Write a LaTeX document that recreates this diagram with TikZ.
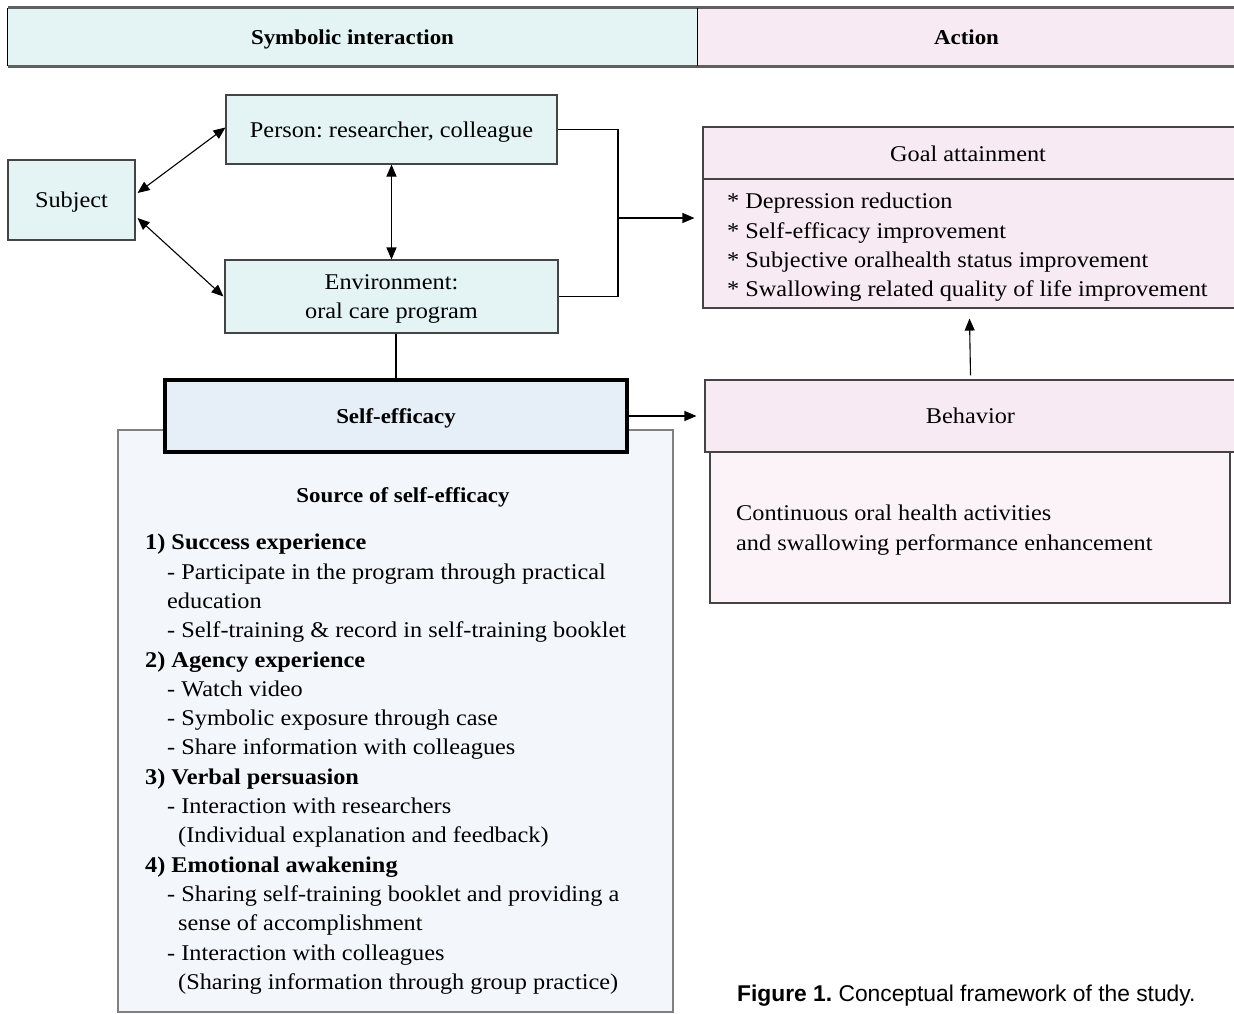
\documentclass[tikz,border=0pt]{standalone}
\usepackage{fontspec}
\setmainfont{Liberation Serif}[FakeStretch=1.08]
\newfontfamily\capfont{Liberation Sans}
\usetikzlibrary{arrows.meta,calc}
\definecolor{cyanbg}{HTML}{E4F3F3}
\definecolor{pinkbg}{HTML}{F7EAF3}
\definecolor{pinklt}{HTML}{FBF3F8}
\definecolor{selfbg}{HTML}{E6EEF8}
\definecolor{srcbg}{HTML}{F3F6FB}
\definecolor{edge}{HTML}{444444}
\frenchspacing
\tikzset{
  txt/.style={font=\fontsize{22.5}{29.3}\selectfont},
  bld/.style={font=\bfseries\fontsize{21.2}{25}\selectfont},
  box/.style={draw=edge, line width=1.1pt, inner sep=0pt, align=center, txt, text depth=0pt},
  cbox/.style={box, fill=cyanbg},
  arr/.style={line width=1.1pt, -{Triangle[length=12pt,width=10pt]}},
  biarr/.style={line width=1.1pt, {Triangle[length=12pt,width=10pt]}-{Triangle[length=12pt,width=10pt]}},
  conn/.style={line width=1.1pt},
  hcell/.style={inner sep=0pt, bld, text depth=0pt},
}
\begin{document}
\begin{tikzpicture}[x=1pt,y=-1pt]
\useasboundingbox (0,0) rectangle (1234,1013);
% header
\node[hcell, fill=cyanbg, minimum width=689pt, minimum height=58pt] (hsym) at (352.5,37) {Symbolic interaction};
\node[hcell, fill=pinkbg, minimum width=539pt, minimum height=58pt] (hact) at (966.5,37) {Action};
\draw[gray!75!black, line width=3pt] (hsym.north west) -- (hact.north east);
\draw[gray!75!black, line width=3pt] (hsym.south west) -- (hact.south east);
\draw[line width=0.8pt] (hsym.north west) -- (hsym.south west);
\draw[line width=0.8pt] (hsym.north east) -- (hsym.south east);
% left boxes
\node[cbox, minimum width=127pt, minimum height=80pt] (subj) at (71.5,200) {Subject};
\node[cbox, minimum width=331pt, minimum height=69pt] (person) at (391.5,129.5) {Person: researcher, colleague};
\node[cbox, minimum width=333pt, minimum height=73pt] (env) at (391.5,296.5) {Environment:\\oral care program};
% source box and self-efficacy
\node[draw=gray, line width=1.1pt, fill=srcbg, minimum width=555pt, minimum height=582pt, inner sep=0pt] (src) at (395.5,721) {};
\node[draw=black, line width=3.5pt, fill=selfbg, minimum width=462pt, minimum height=72pt, inner sep=0pt, bld, text depth=0pt] (self) at (396,416) {Self-efficacy};
\node[bld, inner sep=0pt, text depth=0pt] (srctitle) at (403,495) {Source of self-efficacy};
\node[txt, anchor=north west, align=left, inner sep=0pt] (srclist) at (145,534) {%
\textbf{1) Success experience}\\
\hspace*{22pt}- Participate in the program through practical\\
\hspace*{22pt}education\\
\hspace*{22pt}- Self-training \& record in self-training booklet\\
\textbf{2) Agency experience}\\
\hspace*{22pt}- Watch video\\
\hspace*{22pt}- Symbolic exposure through case\\
\hspace*{22pt}- Share information with colleagues\\
\textbf{3) Verbal persuasion}\\
\hspace*{22pt}- Interaction with researchers\\
\hspace*{33pt}(Individual explanation and feedback)\\
\textbf{4) Emotional awakening}\\
\hspace*{22pt}- Sharing self-training booklet and providing a\\
\hspace*{33pt}sense of accomplishment\\
\hspace*{22pt}- Interaction with colleagues\\
\hspace*{33pt}(Sharing information through group practice)};
% goal box
\node[box, fill=pinkbg, minimum width=533pt, minimum height=181pt] (goal) at (969.5,217.5) {};
\draw[edge, line width=1.1pt] (goal.west |- 0,179) -- (goal.east |- 0,179);
\node[txt, inner sep=0pt, text depth=0pt] (goaltitle) at (968,154) {Goal attainment};
\node[txt, anchor=north west, align=left, inner sep=0pt] (goallist) at (727,193) {%
* Depression reduction\\
* Self-efficacy improvement\\
* Subjective oralhealth status improvement\\
* Swallowing related quality of life improvement};
% behavior
\node[box, fill=pinklt, minimum width=520pt, minimum height=151pt] (behbody) at (970,527.5) {};
\node[box, fill=pinkbg, minimum width=531pt, minimum height=72pt] (beh) at (970.5,416) {Behavior};
\node[txt, anchor=north west, align=left, inner sep=0pt] (behtext) at (736,505) {%
Continuous oral health activities\\
and swallowing performance enhancement};
% connectors
\draw[biarr] ([yshift=7pt,xshift=2pt]subj.east) -- ([yshift=2pt]person.west);
\draw[biarr] ([yshift=-18pt,xshift=2pt]subj.east) -- ([xshift=-1pt]env.west);
\draw[biarr] (person.south) -- (env.north);
\coordinate (jn) at (618,218);
\draw[conn] (person.east) -| (jn) |- (env.east);
\draw[arr] (jn) -- ([xshift=-8pt]goal.west |- jn);
\draw[conn] (self.north |- env.south) -- (self.north);
\draw[arr] (self.east) -- ([xshift=-8pt]beh.west);
\draw[arr] ([yshift=4pt]beh.north) -- ([yshift=-10pt]goal.south);
% caption
\node[anchor=west, inner sep=0pt, font=\capfont\fontsize{22.8}{27}\selectfont] (cap) at (737,996) {\textbf{Figure 1.} Conceptual framework of the study.};
\end{tikzpicture}
\end{document}
